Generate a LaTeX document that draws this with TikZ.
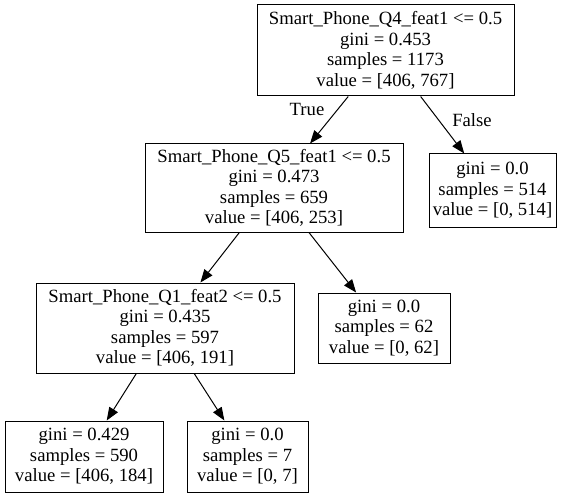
\documentclass[tikz,border=0pt]{standalone}
\usepackage{fontspec}
\setmainfont{Liberation Serif}
\usetikzlibrary{arrows.meta}
\begin{document}
\begin{tikzpicture}[x=1pt,y=-1pt,
  treenode/.style={draw=black, line width=1pt, rectangle, inner sep=0pt, align=center, font=\fontsize{18.67}{20.5}\selectfont},
  edge/.style={draw=black, line width=1pt, -{Triangle[length=13pt,width=10pt]}},
  lbl/.style={font=\fontsize{18.67}{20.5}\selectfont, inner sep=0pt}]
\useasboundingbox (0,0) rectangle (572,497);
\node[treenode, minimum width=257pt, minimum height=91pt] (n0) at (385.5,50.5) {Smart\_Phone\_Q4\_feat1 <= 0.5\\gini = 0.453\\samples = 1173\\value = [406, 767]};
\node[treenode, minimum width=258pt, minimum height=88pt] (n1) at (274,188) {Smart\_Phone\_Q5\_feat1 <= 0.5\\gini = 0.473\\samples = 659\\value = [406, 253]};
\node[treenode, minimum width=127pt, minimum height=73pt] (n2) at (492.5,190.5) {gini = 0.0\\samples = 514\\value = [0, 514]};
\node[treenode, minimum width=258pt, minimum height=90pt] (n3) at (165,328) {Smart\_Phone\_Q1\_feat2 <= 0.5\\gini = 0.435\\samples = 597\\value = [406, 191]};
\node[treenode, minimum width=132pt, minimum height=70pt] (n4) at (384,328) {gini = 0.0\\samples = 62\\value = [0, 62]};
\node[treenode, minimum width=158pt, minimum height=71pt] (n5) at (84,456.5) {gini = 0.429\\samples = 590\\value = [406, 184]};
\node[treenode, minimum width=121pt, minimum height=71pt] (n6) at (247.5,456.5) {gini = 0.0\\samples = 7\\value = [0, 7]};
\draw[edge] (n0) -- (n1);
\draw[edge] (n0) -- (n2);
\draw[edge] (n1) -- (n3);
\draw[edge] (n1) -- (n4);
\draw[edge] (n3) -- (n5);
\draw[edge] (n3) -- (n6);
\node[lbl] (ltrue) at (307,109) {True};
\node[lbl] (lfalse) at (472,120) {False};
\end{tikzpicture}
\end{document}
